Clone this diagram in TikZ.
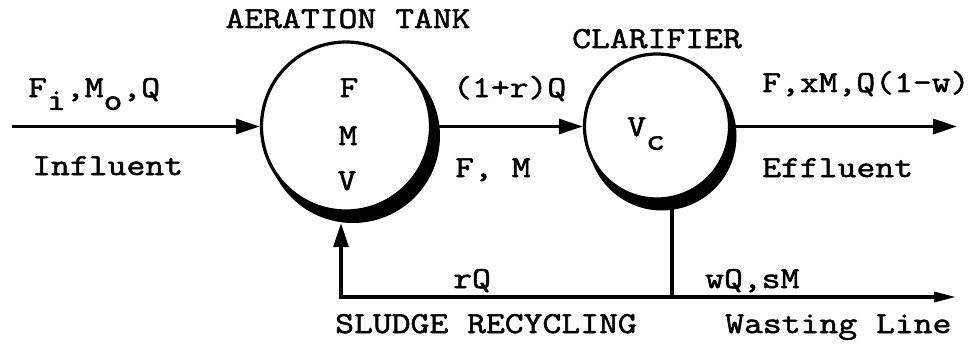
\documentclass[tikz,border=0pt]{standalone}
\usepackage{fontspec}
\newfontfamily\tw[FakeStretch=1.2,FakeBold=1.8]{Latin Modern Mono}
\usetikzlibrary{arrows.meta}
\begin{document}
\begin{tikzpicture}[x=1pt,y=-1pt,
  lbl/.style={font=\tw\fontsize{30.5}{32}\selectfont, inner sep=0pt},
  flow/.style={line width=3.2pt, -{Triangle[length=24pt,width=15pt]}},
  thinflow/.style={line width=3.2pt, -{Triangle[length=22pt,width=10pt]}},
  pipe/.style={line width=3.2pt},
  vessel/.style={circle, draw, line width=3.2pt, fill=white, inner sep=0pt},
  shade/.style={circle, fill=black, inner sep=0pt}]
\useasboundingbox (0,0) rectangle (974,345);
% vessels with shadows
\node[shade, minimum size=174pt] (ATs) at (353,136) {};
\node[vessel, minimum size=169pt] (AT) at (346,126.5) {};
\node[shade, minimum size=149pt] (CLs) at (662,136) {};
\node[vessel, minimum size=145pt] (CL) at (657,126.5) {};
% coordinates
\coordinate (inf) at (12,126.5);
\coordinate (eff) at (957,126.5);
\coordinate (rc) at (341,297);
\coordinate (wv) at (672,297);
\coordinate (wend) at (956,297);
% connectors
\draw[flow] (inf) -- (AT.west);
\draw[flow] (AT.east) -- (CL.west);
\draw[flow] (CL.east) -- (eff);
\draw[pipe] (wv |- CL.south) -- (wv);
\draw[thinflow, line cap=rect] (rc) -- (wend);
\draw[flow, line cap=rect] (rc) -- (rc |- ATs.south);
% labels
\node[lbl, anchor=base] (tAT) at (348,28) {AERATION TANK};
\node[lbl, anchor=base] (tCL) at (657,48) {CLARIFIER};
\node[lbl, anchor=base west] (tin) at (28,97) {F\raisebox{-0.42em}{i},M\raisebox{-0.42em}{o},Q};
\node[lbl, anchor=base west] (tinf) at (32,175) {Influent};
\node[lbl, anchor=base] (tF) at (349,97) {F};
\node[lbl, anchor=base] (tM) at (348,145) {M};
\node[lbl, anchor=base] (tV) at (347,190) {V};
\node[lbl, anchor=base west] (t1r) at (453,97) {(1+r)Q};
\node[lbl, anchor=base west] (tFM) at (455,177) {F, M};
\node[lbl, anchor=base west] (tVc) at (627,136) {V\raisebox{-0.45em}{c}};
\node[lbl, anchor=base west] (tout) at (762,92) {F,xM,Q(1-w)};
\node[lbl, anchor=base west] (teff) at (762,177) {Effluent};
\node[lbl, anchor=base west] (trQ) at (453,288) {rQ};
\node[lbl, anchor=base west] (twQ) at (705,288) {wQ,sM};
\node[lbl, anchor=base west] (tsl) at (335,333) {SLUDGE RECYCLING};
\node[lbl, anchor=base west] (twl) at (725,333) {Wasting Line};
\end{tikzpicture}
\end{document}
